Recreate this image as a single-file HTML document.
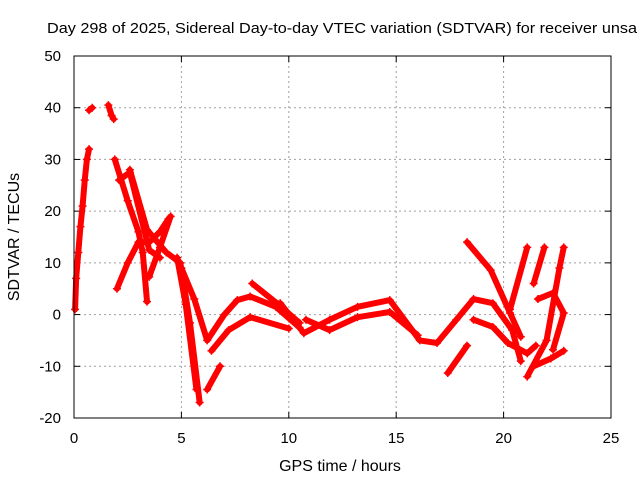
<!DOCTYPE html>
<html><head><meta charset="utf-8"><style>
body{margin:0;background:#fff;}
svg{display:block;font-family:"Liberation Sans",sans-serif;}
</style></head><body>
<svg id="chart" width="640" height="480" viewBox="0 0 640 480">
<text x="47" y="33" font-size="15" textLength="590" lengthAdjust="spacingAndGlyphs" fill="#000">Day 298 of 2025, Sidereal Day-to-day VTEC variation (SDTVAR) for receiver unsa</text>
<g id="grid"></g>
<g id="axes"></g>
<g id="series"></g>
<rect x="74" y="56" width="537" height="362" fill="none" stroke="#000" stroke-width="1"/>
<text x="340" y="471" font-size="16" text-anchor="middle">GPS time / hours</text>
<text x="19" y="237" font-size="16" text-anchor="middle" transform="rotate(-90 19 237)">SDTVAR / TECUs</text>
</svg>
<script>
const xTicks=[0,5,10,15,20,25];
const yTicks=[-20,-10,0,10,20,30,40,50];
const trackEarly=[[0.05,1],[0.1,7],[0.2,12],[0.3,17],[0.4,21],[0.5,26],[0.6,30],[0.7,32]];
const trackTop1=[[0.7,39.5],[0.85,40]];
const trackTop2=[[1.6,40.5],[1.75,38.5],[1.85,37.8]];
const trackA=[[1.9,30],[2.5,22],[3.0,16],[3.2,12],[3.4,2.5]];
const trackB=[[2.0,5],[2.5,10],[3.0,14],[3.5,14],[4.0,16],[4.4,18.5]];
const trackC=[[2.6,28],[3.4,16.4],[4.3,12],[4.95,10],[5.4,-1.6],[5.85,-17]];
const trackC2=[[4.8,11],[5.2,2],[5.7,-14.5]];
const trackD=[[2.1,26],[2.6,27.5],[3.5,12.5],[4.0,11]];
const trackE=[[3.5,7.3],[4.0,13],[4.5,19]];
const trackF=[[5.0,9],[5.6,3],[6.2,-5],[7.0,0],[7.6,2.8],[8.2,3.5],[9.4,1.5],[10.5,-2.5]];
const trackG=[[6.2,-14.5],[6.8,-10]];
const trackG2=[[6.4,-7],[7.2,-3],[8.2,-0.5],[10.0,-2.7]];
const trackH=[[8.3,6],[9.5,2],[10.5,-1.6]];
const trackMid=[[9.6,2.2],[10.7,-3.6],[11.9,-1],[13.2,1.5],[14.7,2.8],[16.1,-5],[16.9,-5.5],[17.8,-1],[18.6,3],[19.5,2.2],[20.4,-3],[20.8,-9]];
const trackMid2=[[10.8,-1],[11.9,-3],[13.2,-0.5],[14.7,0.5],[16.0,-4]];
const trackLow=[[18.6,-1],[19.5,-2.4],[20.2,-5.5],[21.1,-7.5],[21.5,-6]];
const trackHigh=[[18.3,14],[19.4,8.6],[20.3,0.3],[20.8,-4.3]];
const trackRise1=[[20.3,1],[21.1,13]];
const trackRise2=[[21.4,6],[21.9,13]];
const trackRise3=[[21.1,-12],[22.0,-5],[22.6,9],[22.8,13]];
const trackLoop=[[21.6,3],[22.3,4.2],[22.8,0.3],[22.3,-6.8]];
const trackTail=[[21.4,-10],[22.2,-8.5],[22.8,-7]];
const trackShort=[[17.4,-11.3],[18.3,-6]];
const tracks=[trackEarly,trackTop1,trackTop2,trackA,trackB,trackC,trackC2,trackD,trackE,trackF,trackG,trackG2,trackH,trackMid,trackMid2,trackLow,trackHigh,trackRise1,trackRise2,trackRise3,trackLoop,trackTail,trackShort];

const X0=74,X1=611,Y0=418,Y1=56;
const sx=v=>X0+(v-0)/(25-0)*(X1-X0);
const sy=v=>Y0-(v+20)/(70)*(Y0-Y1);
const NS='http://www.w3.org/2000/svg';
function mk(tag,attrs,parent){const e=document.createElementNS(NS,tag);for(const k in attrs)e.setAttribute(k,attrs[k]);parent.appendChild(e);return e;}
const grid=document.getElementById('grid'),axes=document.getElementById('axes'),series=document.getElementById('series');
xTicks.forEach(t=>{
  const x=sx(t);
  if(t>0&&t<25){const g=mk('line',{x1:x,x2:x,y1:Y0,y2:Y1,stroke:'#a0a0a0','stroke-dasharray':'2,3'},grid);
  
  }
  mk('line',{x1:x,x2:x,y1:Y0,y2:Y0-6,stroke:'#000'},axes);
  mk('line',{x1:x,x2:x,y1:Y1,y2:Y1+6,stroke:'#000'},axes);
  const l=mk('text',{x:x,y:Y0+25,'font-size':15,'text-anchor':'middle'},axes);l.textContent=t;
  
  
});
yTicks.forEach(t=>{
  const y=sy(t);
  if(t>-20&&t<50){const g=mk('line',{x1:X0,x2:X1,y1:y,y2:y,stroke:'#a0a0a0','stroke-dasharray':'2,3'},grid);
  
  }
  mk('line',{x1:X0,x2:X0+6,y1:y,y2:y,stroke:'#000'},axes);
  mk('line',{x1:X1,x2:X1-6,y1:y,y2:y,stroke:'#000'},axes);
  const l=mk('text',{x:X0-13,y:y+5,'font-size':15,'text-anchor':'end'},axes);l.textContent=t;
  
  
});
tracks.forEach(tr=>{
  const pts=tr.map(p=>sx(p[0])+','+sy(p[1])).join(' ');
  const pl=mk('polyline',{points:pts,fill:'none',stroke:'#ff0000','stroke-width':6,'stroke-linejoin':'round','stroke-linecap':'round'},series);
  
  
  tr.forEach(p=>{
    const x=sx(p[0]),y=sy(p[1]);
    const m=mk('path',{d:`M${x-4},${y}H${x+4}M${x},${y-4}V${y+4}`,stroke:'#ff0000','stroke-width':1.5},series);
    
    
  });
});
</script>
</body></html>
